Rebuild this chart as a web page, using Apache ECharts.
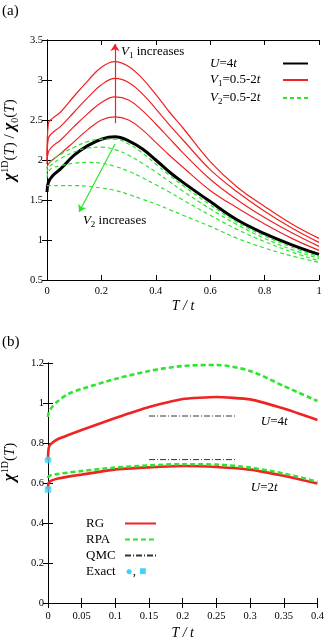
<!DOCTYPE html>
<html>
<head>
<meta charset="utf-8">
<script src="https://cdn.jsdelivr.net/npm/echarts/dist/echarts.min.js"></script>
<style>
  html, body { margin: 0; padding: 0; background: #fff; }
  #main { width: 327px; height: 644px; }
</style>
</head>
<body>
<div id="main"></div>
<script>
// ---- panel (a): chi^1D / chi0 vs T/t ----
var tA = [0, 0.005, 0.02, 0.05, 0.1, 0.15, 0.2, 0.25, 0.3, 0.35, 0.4, 0.45, 0.5, 0.6, 0.7, 0.8, 0.9, 1.0];
var chiU4 = [1.60, 1.72, 1.80, 1.89, 2.06, 2.18, 2.26, 2.29, 2.24, 2.14, 2.0, 1.85, 1.72, 1.48, 1.25, 1.08, 0.94, 0.82];
// V1 = 0.5, 1, 1.5, 2 t
var chiV1 = [
  [1.90, 1.95, 2.00, 2.08, 2.23, 2.38, 2.50, 2.54, 2.50, 2.38, 2.22, 2.06, 1.91, 1.62, 1.40, 1.20, 1.02, 0.87],
  [1.95, 2.10, 2.17, 2.25, 2.42, 2.58, 2.72, 2.79, 2.75, 2.62, 2.45, 2.27, 2.09, 1.76, 1.50, 1.28, 1.09, 0.92],
  [2.00, 2.27, 2.34, 2.42, 2.60, 2.78, 2.94, 3.02, 2.97, 2.83, 2.64, 2.44, 2.25, 1.88, 1.60, 1.36, 1.15, 0.97],
  [2.05, 2.46, 2.52, 2.60, 2.80, 2.99, 3.16, 3.23, 3.17, 3.02, 2.82, 2.60, 2.40, 1.98, 1.66, 1.42, 1.20, 1.02]
];
// V2 = 0.5, 1, 1.5, 2 t
var chiV2 = [
  [1.88, 1.95, 2.00, 2.07, 2.16, 2.23, 2.26, 2.26, 2.20, 2.09, 1.95, 1.81, 1.68, 1.44, 1.22, 1.05, 0.91, 0.79],
  [1.84, 1.90, 1.95, 2.02, 2.10, 2.15, 2.16, 2.13, 2.06, 1.96, 1.85, 1.73, 1.61, 1.39, 1.19, 1.02, 0.88, 0.77],
  [1.78, 1.85, 1.90, 1.93, 1.96, 1.97, 1.96, 1.92, 1.86, 1.78, 1.69, 1.60, 1.50, 1.31, 1.13, 0.98, 0.85, 0.74],
  [1.68, 1.68, 1.68, 1.68, 1.68, 1.67, 1.65, 1.62, 1.57, 1.51, 1.45, 1.38, 1.31, 1.17, 1.02, 0.90, 0.80, 0.72]
];

// ---- panel (b): chi^1D vs T/t ----
var tB = [0, 0.0005, 0.002, 0.006, 0.015, 0.03, 0.05, 0.1, 0.15, 0.2, 0.25, 0.3, 0.35, 0.4];
var rgU4 = [0.715, 0.76, 0.785, 0.80, 0.82, 0.84, 0.865, 0.925, 0.98, 1.02, 1.03, 1.018, 0.972, 0.915];
var rpaU4 = [0.93, 0.945, 0.96, 0.98, 1.01, 1.045, 1.07, 1.12, 1.16, 1.185, 1.19, 1.16, 1.085, 1.01];
var rgU2 = [0.567, 0.595, 0.605, 0.613, 0.622, 0.632, 0.642, 0.668, 0.678, 0.685, 0.68, 0.667, 0.636, 0.598];
var rpaU2 = [0.625, 0.63, 0.635, 0.64, 0.645, 0.652, 0.66, 0.677, 0.688, 0.694, 0.692, 0.677, 0.647, 0.607];
var tQmc = [0.15, 0.28];
var qmcU4 = [0.935, 0.935];
var qmcU2 = [0.717, 0.717];
var exactU4 = 0.715, exactU2 = 0.567;

var RED = '#f02222', GREEN = '#2ee42e', CYAN = '#3fd3f6';
var FONT = 'Liberation Serif';

function pairs(ts, vs) {
  return ts.map(function (t, i) { return [t, vs[i]]; });
}

var rich = {
  i: { fontStyle: 'italic', fontFamily: FONT, fontSize: 13, color: '#000', align: 'left', lineHeight: 16 },
  sub: { fontFamily: FONT, fontSize: 9, verticalAlign: 'bottom', color: '#000', align: 'left' },
  n: { fontFamily: FONT, fontSize: 13, color: '#000', align: 'left', lineHeight: 16 },
  c: { fontSize: 12, color: CYAN, align: 'left', padding: [0, 0, 0, 10] },
  s: { fontSize: 12, color: CYAN, align: 'left', padding: [0, 0, 0, 3] }
};

var myChart = echarts.init(document.getElementById('main'));

function axisX(grid, pos, min, max, interval, show) {
  return {
    type: 'value', gridIndex: grid, position: pos, min: min, max: max, interval: interval,
    axisLine: { show: true, lineStyle: { color: '#000', width: 1 } },
    axisTick: { show: true, inside: true, length: 5, lineStyle: { color: '#000' } },
    axisLabel: { show: show, color: '#000', fontFamily: FONT, fontSize: 10.5, margin: 6 },
    splitLine: { show: false }
  };
}
function axisY(grid, pos, min, max, interval, show) {
  var a = axisX(grid, pos, min, max, interval, show);
  a.axisLabel.margin = 4;
  return a;
}

var xs = [
  axisX(0, 'bottom', 0, 1, 0.2, true),
  axisX(0, 'top', 0, 1, 0.2, false),
  axisX(1, 'bottom', 0, 0.4, 0.05, true),
  axisX(1, 'top', 0, 0.4, 0.05, false)
];
xs[0].name = 'T / t';
xs[2].name = 'T / t';
[xs[0], xs[2]].forEach(function (a) {
  a.nameLocation = 'middle';
  a.nameTextStyle = { fontFamily: FONT, fontStyle: 'italic', fontSize: 14, color: '#000' };
});
xs[0].nameGap = 19;
xs[2].nameGap = 23;
xs[2].axisLabel.margin = 8;

var ys = [
  axisY(0, 'left', 0.5, 3.5, 0.5, true),
  axisY(0, 'right', 0.5, 3.5, 0.5, false),
  axisY(1, 'left', 0, 1.2, 0.2, true),
  axisY(1, 'right', 0, 1.2, 0.2, false)
];

var series = [];
series.push({
  name: 'U=4t', type: 'line', xAxisIndex: 0, yAxisIndex: 0, data: pairs(tA, chiU4),
  symbol: 'none', smooth: 0.4, z: 3,
  lineStyle: { color: '#000', width: 3 }, itemStyle: { color: '#000' }
});
chiV1.forEach(function (v) {
  series.push({
    name: 'V1=0.5-2t', type: 'line', xAxisIndex: 0, yAxisIndex: 0, data: pairs(tA, v),
    symbol: 'none', smooth: 0.4,
    lineStyle: { color: RED, width: 1.2 }, itemStyle: { color: RED }
  });
});
chiV2.forEach(function (v) {
  series.push({
    name: 'V2=0.5-2t', type: 'line', xAxisIndex: 0, yAxisIndex: 0, data: pairs(tA, v),
    symbol: 'none', smooth: 0.4,
    lineStyle: { color: GREEN, width: 1.2, type: [4, 3] }, itemStyle: { color: GREEN }
  });
});

// arrows and notes in panel (a)
series.push({
  name: 'arrows', type: 'line', xAxisIndex: 0, yAxisIndex: 0, data: [], silent: true,
  markLine: {
    silent: true, symbol: ['none', 'arrow'], symbolSize: 7, label: { show: false },
    data: [
      [{ coord: [0.25, 2.46], lineStyle: { color: RED, width: 1.2, type: 'solid' } }, { coord: [0.25, 3.45] }],
      [{ coord: [0.25, 2.2], lineStyle: { color: GREEN, width: 1.2, type: 'solid' } }, { coord: [0.118, 1.35] }]
    ]
  },
  markPoint: {
    symbol: 'circle', symbolSize: 0, silent: true,
    label: { show: true, position: 'right', distance: 0, rich: rich },
    data: [
      { coord: [0.272, 3.35], label: { formatter: '{i|V}{sub|1}{n| increases}' } },
      { coord: [0.132, 1.24], label: { formatter: '{i|V}{sub|2}{n| increases}' } }
    ]
  }
});

// panel (b)
[rgU4, rgU2].forEach(function (v) {
  series.push({
    name: 'RG', type: 'line', xAxisIndex: 2, yAxisIndex: 2, data: pairs(tB, v),
    symbol: 'none', smooth: 0.15, z: 3,
    lineStyle: { color: RED, width: 2.6 }, itemStyle: { color: RED }
  });
});
[rpaU4, rpaU2].forEach(function (v) {
  series.push({
    name: 'RPA', type: 'line', xAxisIndex: 2, yAxisIndex: 2, data: pairs(tB, v),
    symbol: 'none', smooth: 0.3,
    lineStyle: { color: GREEN, width: 2.6, type: [5, 3] }, itemStyle: { color: GREEN }
  });
});
[qmcU4, qmcU2].forEach(function (v) {
  series.push({
    name: 'QMC', type: 'line', xAxisIndex: 2, yAxisIndex: 2, data: pairs(tQmc, v),
    symbol: 'none', lineStyle: { color: '#333', width: 1, type: [6, 2, 1, 2] }, itemStyle: { color: '#333' }
  });
});
series.push({
  name: 'Exact', type: 'scatter', xAxisIndex: 2, yAxisIndex: 2, z: 5, clip: false,
  symbolSize: 7, itemStyle: { color: CYAN },
  data: [
    { value: [0, exactU4], symbol: 'circle' },
    { value: [0, exactU2], symbol: 'rect', symbolSize: 6.5 }
  ],
  markPoint: {
    symbol: 'circle', symbolSize: 0, silent: true,
    label: { show: true, position: 'right', distance: 0, rich: rich },
    data: [
      { coord: [0.316, 0.908], label: { formatter: '{i|U}{n|=4}{i|t}' } },
      { coord: [0.301, 0.578], label: { formatter: '{i|U}{n|=2}{i|t}' } }
    ]
  }
});

var legendNames = {
  'U=4t': '{i|U}{n|=4}{i|t}',
  'V1=0.5-2t': '{i|V}{sub|1}{n|=0.5-2}{i|t}',
  'V2=0.5-2t': '{i|V}{sub|2}{n|=0.5-2}{i|t}',
  'Exact': '{n|Exact}{c|\u25CF}{n|,}{s|\u25A0}'
};

var option = {
  animation: false,
  backgroundColor: '#fff',
  grid: [
    { left: 47, top: 40, width: 272, height: 240 },
    { left: 48, top: 363, width: 271, height: 240 }
  ],
  xAxis: xs,
  yAxis: ys,
  legend: [
    {
      orient: 'vertical', left: 205, top: 52, align: 'right',
      itemWidth: 25, itemHeight: 14, itemGap: 3.5, selectedMode: false,
      itemStyle: { opacity: 0 },
      data: ['U=4t', 'V1=0.5-2t', 'V2=0.5-2t'],
      formatter: function (n) { return legendNames[n] || n; },
      textStyle: { width: 68, fontFamily: FONT, fontSize: 13, color: '#000', rich: rich }
    },
    {
      orient: 'vertical', left: 81, top: 512, align: 'right',
      itemWidth: 31, itemHeight: 12, itemGap: 3, selectedMode: false,
      itemStyle: { opacity: 0 },
      data: ['RG', 'RPA', 'QMC', { name: 'Exact', icon: 'none' }],
      formatter: function (n) { return legendNames[n] || '{n|' + n + '}'; },
      textStyle: { width: 34, fontFamily: FONT, fontSize: 13, color: '#000', rich: rich }
    }
  ],
  graphic: [
    { type: 'text', left: 2, top: 4, style: { text: '(a)', font: '15px "Liberation Serif"', fill: '#000' } },
    { type: 'text', left: 2, top: 335, style: { text: '(b)', font: '15px "Liberation Serif"', fill: '#000' } },
    {
      type: 'text', x: 10, y: 140, rotation: Math.PI / 2,
      style: {
        text: '{g|\u03C7}{sup|1D}{n|(}{i|T}{n|) / }{g|\u03C7}{sub|0}{n|(}{i|T}{n|)}',
        align: 'center', verticalAlign: 'middle',
        rich: {
          g: { fontFamily: FONT, fontStyle: 'italic', fontSize: 17, fontWeight: 'bold', fill: '#000', lineHeight: 20 },
          n: { fontFamily: FONT, fontSize: 15, fill: '#000', lineHeight: 20 },
          i: { fontFamily: FONT, fontStyle: 'italic', fontSize: 15, fill: '#000', lineHeight: 20 },
          sup: { fontFamily: FONT, fontSize: 10, verticalAlign: 'top', fill: '#000' },
          sub: { fontFamily: FONT, fontSize: 10, verticalAlign: 'bottom', fill: '#000' }
        }
      }
    },
    {
      type: 'text', x: 10, y: 462, rotation: Math.PI / 2,
      style: {
        text: '{g|\u03C7}{sup|1D}{n|(}{i|T}{n|)}',
        align: 'center', verticalAlign: 'middle',
        rich: {
          g: { fontFamily: FONT, fontStyle: 'italic', fontSize: 17, fontWeight: 'bold', fill: '#000', lineHeight: 20 },
          n: { fontFamily: FONT, fontSize: 15, fill: '#000', lineHeight: 20 },
          i: { fontFamily: FONT, fontStyle: 'italic', fontSize: 15, fill: '#000', lineHeight: 20 },
          sup: { fontFamily: FONT, fontSize: 10, verticalAlign: 'top', fill: '#000' }
        }
      }
    }
  ],
  series: series
};

myChart.setOption(option);
</script>
</body>
</html>
